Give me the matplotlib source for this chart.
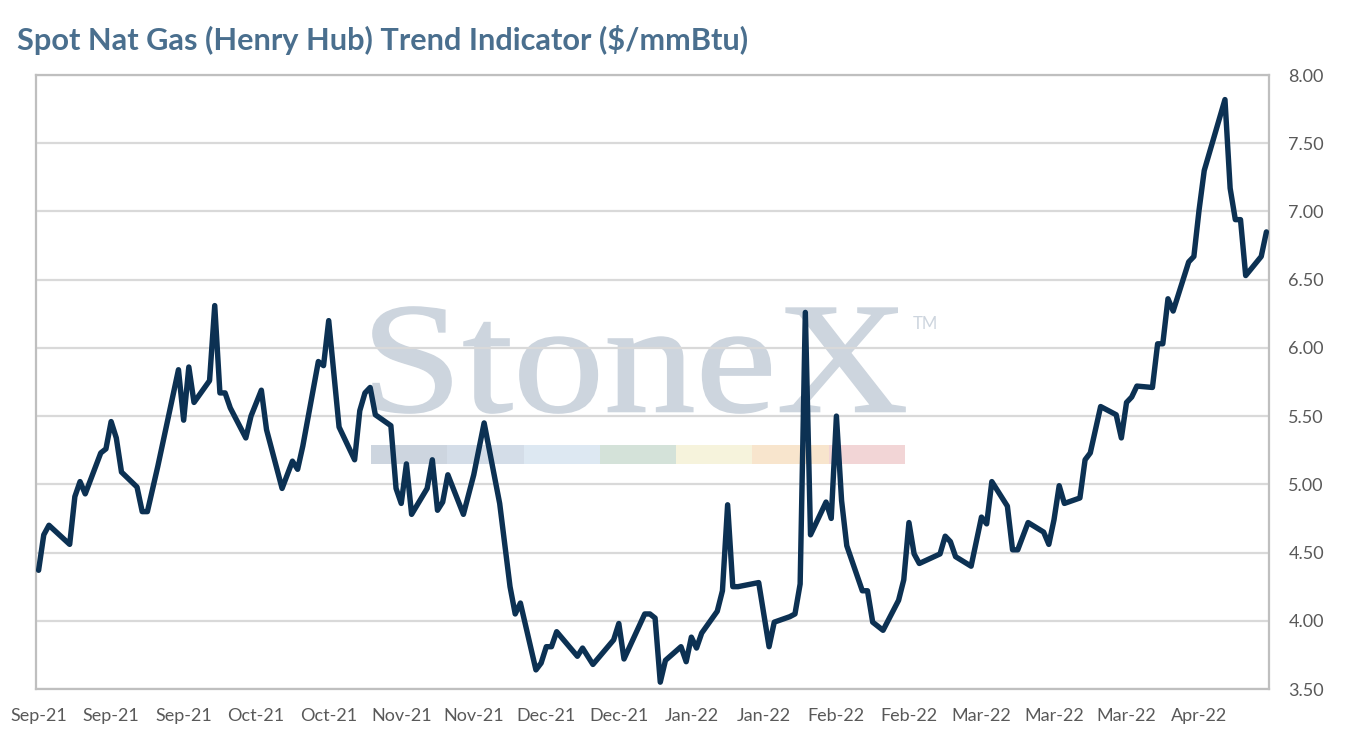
import matplotlib
matplotlib.use("Agg")
import matplotlib.pyplot as plt
import matplotlib.dates as mdates
from matplotlib.textpath import TextPath
from matplotlib.patches import PathPatch, Rectangle
from matplotlib.font_manager import FontProperties
from matplotlib.transforms import Affine2D, IdentityTransform
import pandas as pd

# ---------------- data ----------------
dates = [
    "2021-09-01", "2021-09-02", "2021-09-03", "2021-09-07", "2021-09-08", "2021-09-09",
    "2021-09-10", "2021-09-13", "2021-09-14", "2021-09-15", "2021-09-16", "2021-09-17",
    "2021-09-20", "2021-09-21", "2021-09-22", "2021-09-24", "2021-09-28", "2021-09-29",
    "2021-09-30", "2021-10-01", "2021-10-04", "2021-10-05", "2021-10-06", "2021-10-07",
    "2021-10-08", "2021-10-11", "2021-10-12", "2021-10-14", "2021-10-15", "2021-10-18",
    "2021-10-20", "2021-10-21", "2021-10-22", "2021-10-25", "2021-10-26", "2021-10-27",
    "2021-10-29", "2021-11-01", "2021-11-02", "2021-11-03", "2021-11-04", "2021-11-05",
    "2021-11-08", "2021-11-09", "2021-11-10", "2021-11-11", "2021-11-12", "2021-11-15",
    "2021-11-16", "2021-11-17", "2021-11-18", "2021-11-19", "2021-11-22", "2021-11-24",
    "2021-11-26", "2021-11-29", "2021-12-01", "2021-12-02", "2021-12-03", "2021-12-06",
    "2021-12-07", "2021-12-08", "2021-12-09", "2021-12-10", "2021-12-14", "2021-12-15",
    "2021-12-17", "2021-12-21", "2021-12-22", "2021-12-23", "2021-12-27", "2021-12-28",
    "2021-12-29", "2021-12-30", "2021-12-31", "2022-01-03", "2022-01-04", "2022-01-05",
    "2022-01-06", "2022-01-07", "2022-01-10", "2022-01-11", "2022-01-12", "2022-01-13",
    "2022-01-14", "2022-01-18", "2022-01-20", "2022-01-21", "2022-01-24", "2022-01-25",
    "2022-01-26", "2022-01-27", "2022-01-28", "2022-01-31", "2022-02-01", "2022-02-02",
    "2022-02-03", "2022-02-04", "2022-02-07", "2022-02-08", "2022-02-09", "2022-02-10",
    "2022-02-11", "2022-02-14", "2022-02-15", "2022-02-16", "2022-02-17", "2022-02-18",
    "2022-02-22", "2022-02-23", "2022-02-24", "2022-02-25", "2022-02-28", "2022-03-02",
    "2022-03-03", "2022-03-04", "2022-03-07", "2022-03-08", "2022-03-09", "2022-03-11",
    "2022-03-14", "2022-03-15", "2022-03-16", "2022-03-17", "2022-03-18", "2022-03-21",
    "2022-03-22", "2022-03-23", "2022-03-25", "2022-03-28", "2022-03-29", "2022-03-30",
    "2022-03-31", "2022-04-01", "2022-04-04", "2022-04-05", "2022-04-06", "2022-04-07",
    "2022-04-08", "2022-04-11", "2022-04-12", "2022-04-13", "2022-04-14", "2022-04-18",
    "2022-04-19", "2022-04-20", "2022-04-21", "2022-04-22", "2022-04-25", "2022-04-26",
]
prices = [
    4.37, 4.63, 4.70, 4.56, 4.91, 5.02,
    4.93, 5.23, 5.26, 5.46, 5.34, 5.09,
    4.98, 4.80, 4.80, 5.13, 5.84, 5.47,
    5.86, 5.60, 5.76, 6.31, 5.67, 5.67,
    5.56, 5.34, 5.50, 5.69, 5.40, 4.97,
    5.17, 5.11, 5.28, 5.90, 5.87, 6.20,
    5.42, 5.18, 5.54, 5.67, 5.71, 5.51,
    5.43, 4.97, 4.86, 5.15, 4.78, 4.97,
    5.18, 4.81, 4.87, 5.07, 4.78, 5.07,
    5.45, 4.86, 4.25, 4.05, 4.13, 3.64,
    3.69, 3.81, 3.81, 3.92, 3.74, 3.80,
    3.68, 3.86, 3.98, 3.72, 4.05, 4.05,
    4.02, 3.55, 3.71, 3.81, 3.70, 3.88,
    3.80, 3.91, 4.07, 4.22, 4.85, 4.25,
    4.25, 4.28, 3.81, 3.99, 4.03, 4.05,
    4.27, 6.26, 4.63, 4.87, 4.75, 5.50,
    4.88, 4.55, 4.22, 4.22, 3.99, 3.96,
    3.93, 4.15, 4.30, 4.72, 4.49, 4.42,
    4.49, 4.62, 4.58, 4.47, 4.40, 4.76,
    4.71, 5.02, 4.84, 4.52, 4.52, 4.72,
    4.65, 4.56, 4.74, 4.99, 4.86, 4.90,
    5.18, 5.23, 5.57, 5.51, 5.34, 5.60,
    5.64, 5.72, 5.71, 6.03, 6.03, 6.36,
    6.27, 6.63, 6.67, 7.01, 7.30, 7.82,
    7.17, 6.94, 6.94, 6.53, 6.67, 6.85,
]
tick_dates = ["2021-09-01", "2021-09-15", "2021-09-29", "2021-10-13", "2021-10-27",
              "2021-11-10", "2021-11-24", "2021-12-08", "2021-12-22", "2022-01-05",
              "2022-01-19", "2022-02-02", "2022-02-16", "2022-03-02", "2022-03-16",
              "2022-03-30", "2022-04-13"]
tick_labels = ["Sep-21", "Sep-21", "Sep-21", "Oct-21", "Oct-21", "Nov-21", "Nov-21",
               "Dec-21", "Dec-21", "Jan-22", "Jan-22", "Feb-22", "Feb-22", "Mar-22",
               "Mar-22", "Mar-22", "Apr-22"]
y_ticks = [3.50, 4.00, 4.50, 5.00, 5.50, 6.00, 6.50, 7.00, 7.50, 8.00]
title = "Spot Nat Gas (Henry Hub) Trend Indicator ($/mmBtu)"

# ---------------- style ----------------
W, H = 1349, 750
LINE = "#0c3153"
GRID = "#d9d9d9"
FRAME = "#bfbfbf"
TXT = "#595959"
TITLE_C = "#4a6f8e"
FONT = "Lato"

fig = plt.figure(figsize=(W / 100, H / 100), dpi=100)
fig.patch.set_facecolor("white")
L, R, T, B = 36, 1269, 75, 689
ax = fig.add_axes([L / W, 1 - B / H, (R - L) / W, (B - T) / H])

x = pd.to_datetime(dates)
ax.plot(x, prices, color=LINE, lw=3.9, solid_joinstyle="round",
        solid_capstyle="round", zorder=5)

xmin = pd.Timestamp("2021-09-01") - pd.Timedelta(hours=12)
xmax = pd.Timestamp("2022-04-26") + pd.Timedelta(hours=12)
ax.set_xlim(xmin, xmax)
ax.set_ylim(3.5, 8.0)

ax.set_xticks(pd.to_datetime(tick_dates))
ax.set_xticklabels(tick_labels)
ax.set_yticks(y_ticks)
ax.set_yticklabels([f"{v:.2f}" for v in y_ticks])
ax.yaxis.tick_right()
ax.tick_params(axis="both", length=0, labelsize=13, colors=TXT)
ax.tick_params(axis="x", pad=14)
ax.tick_params(axis="y", pad=14)
for lab in ax.get_xticklabels() + ax.get_yticklabels():
    lab.set_fontfamily(FONT)

ax.set_axisbelow(True)
ax.grid(axis="y", color=GRID, lw=1.6, zorder=1)
ax.grid(axis="x", visible=False)
for s in ax.spines.values():
    s.set_color(FRAME)
    s.set_linewidth(1.6)

# ---------------- watermark ----------------
wm_color = "#cdd5de"
tp = TextPath((0, 0), "StoneX", size=100, prop=FontProperties(family="Liberation Serif"))
ext = tp.get_extents()
tx0, tx1, ty_top, ty_base = 373, 905, 307, 413
sx = (tx1 - tx0) / ext.width
sy = (ty_base - ty_top) / ext.height
tr = Affine2D().translate(-ext.x0, -ext.y0).scale(sx, sy).translate(tx0, H - ty_base)
wm = PathPatch(tr.transform_path(tp), facecolor=wm_color, edgecolor=wm_color, lw=1.2,
               transform=IdentityTransform(), zorder=0.4)
ax.add_artist(wm)
fig.text(913 / W, 1 - 324 / H, "TM", fontsize=12, color=wm_color, family=FONT,
         va="center", ha="left")

bar_colors = ["#cdd5df", "#d4dde8", "#dde8f2", "#d4e2d9", "#f6f3dc", "#f8e5cd", "#f2d5d6"]
bx0, bx1, by0, by1 = 371, 905, 445, 464
seg = (bx1 - bx0) / len(bar_colors)
for i, c in enumerate(bar_colors):
    ax.add_artist(Rectangle((bx0 + i * seg, H - by1), seg, by1 - by0, facecolor=c,
                            edgecolor="none", transform=IdentityTransform(), zorder=0.4))

# ---------------- title ----------------
t = fig.text(17 / W, 1 - 40 / H, title, fontsize=19, fontweight="bold",
             color=TITLE_C, family=FONT, va="center", ha="left")
fig.canvas.draw()
bb = t.get_window_extent()
t.set_fontsize(19 * 733 / bb.width)

fig.savefig("out.png", dpi=100, facecolor="white")
